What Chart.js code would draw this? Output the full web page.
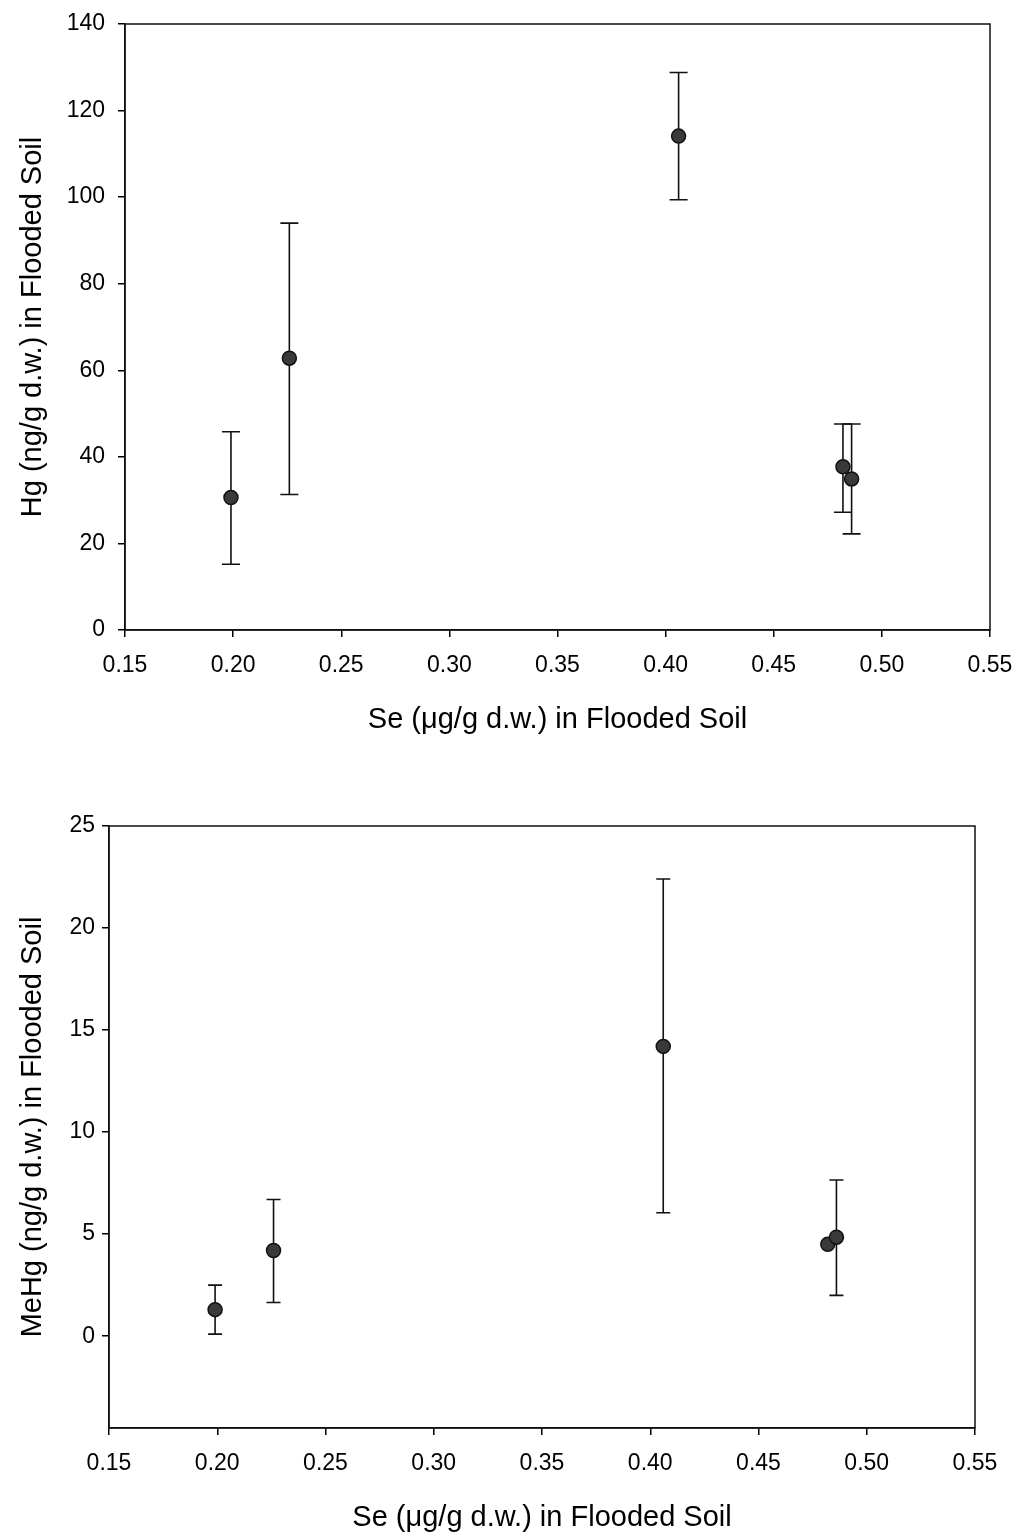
<!DOCTYPE html>
<html><head><meta charset="utf-8">
<script src="https://cdn.jsdelivr.net/npm/chart.js@4/dist/chart.umd.min.js"></script>
<style>html,body{margin:0;padding:0;background:#fff;} canvas{position:absolute;left:0;}</style>
</head><body>
<canvas id="c1" width="1018" height="760" style="top:0px"></canvas>
<canvas id="c2" width="1018" height="777" style="top:760px"></canvas>
<script>
// ---- data ----
const seX = [0.199, 0.226, 0.406, 0.482, 0.486];
const hgMean = [30.6, 62.8, 114.1, 37.7, 34.9];
const hgLow  = [15.2, 31.3, 99.4, 27.2, 22.2];
const hgHigh = [45.8, 94.0, 128.8, 47.6, 47.6];
const mehgMean = [1.3, 4.2, 14.2, 4.5, 4.85];
const mehgLow  = [0.1, 1.65, 6.05, null, 2.0];
const mehgHigh = [2.5, 6.7, 22.4, null, 7.65];
const xTicks = [0.15, 0.20, 0.25, 0.30, 0.35, 0.40, 0.45, 0.50, 0.55];
const hgTicks = [0, 20, 40, 60, 80, 100, 120, 140];
const mehgTicks = [0, 5, 10, 15, 20, 25];
const xTitle = 'Se (\u03BCg/g d.w.) in Flooded Soil';
const hgTitle = 'Hg (ng/g d.w.) in Flooded Soil';
const mehgTitle = 'MeHg (ng/g d.w.) in Flooded Soil';

const FONT = "'Liberation Sans', Arial, sans-serif";

const errorBars = {
  id: 'errorBars',
  beforeDatasetsDraw(chart, args, opts) {
    const {ctx, scales: {x, y}} = chart;
    ctx.save();
    ctx.strokeStyle = '#111';
    ctx.lineWidth = 1.6;
    opts.x.forEach((xv, i) => {
      const lo = opts.low[i], hi = opts.high[i];
      if (lo == null || hi == null) return;
      const px = x.getPixelForValue(xv);
      const pl = y.getPixelForValue(lo), ph = y.getPixelForValue(hi);
      const c = opts.cap;
      ctx.beginPath();
      ctx.moveTo(px, pl); ctx.lineTo(px, ph);
      ctx.moveTo(px - c, pl); ctx.lineTo(px + c, pl);
      ctx.moveTo(px - c, ph); ctx.lineTo(px + c, ph);
      ctx.stroke();
    });
    ctx.restore();
  }
};

const frame = {
  id: 'frame',
  beforeDatasetsDraw(chart) {
    const {ctx, chartArea: a} = chart;
    ctx.save();
    ctx.strokeStyle = '#111';
    ctx.lineWidth = 1.5;
    ctx.strokeRect(a.left, a.top, a.right - a.left, a.bottom - a.top);
    ctx.restore();
  }
};

function makeChart(id, cfg) {
  return new Chart(document.getElementById(id), {
    type: 'scatter',
    data: {
      datasets: [{
        data: seX.map((xv, i) => ({x: xv, y: cfg.mean[i]})),
        pointRadius: 7,
        pointBackgroundColor: '#3a3a3a',
        pointBorderColor: '#111',
        pointBorderWidth: 1.5,
        showLine: false
      }]
    },
    options: {
      responsive: false,
      animation: false,
      events: [],
      layout: {padding: cfg.padding},
      plugins: {
        legend: {display: false},
        tooltip: {enabled: false},
        errorBars: {x: seX, low: cfg.low, high: cfg.high, cap: cfg.cap}
      },
      scales: {
        x: {
          type: 'linear', min: 0.15, max: 0.55,
          afterBuildTicks: s => { s.ticks = xTicks.map(v => ({value: v})); },
          afterFit: s => { s.height = cfg.xH; s.paddingLeft = 0; s.paddingRight = 0; },
          ticks: {font: {family: FONT, size: 23}, color: '#000', padding: 15,
                  maxRotation: 0, autoSkip: false, callback: v => Number(v).toFixed(2)},
          grid: {drawOnChartArea: false, drawTicks: true, tickLength: 7, color: '#000', lineWidth: 1.5},
          border: {display: true, color: '#111', width: 1.5},
          title: {display: true, text: xTitle, color: '#000',
                  font: {family: FONT, size: 29}, padding: {top: 0, bottom: cfg.xTitlePad}}
        },
        y: {
          type: 'linear', min: cfg.yMin, max: cfg.yMax,
          afterBuildTicks: s => { s.ticks = cfg.yTicks.map(v => ({value: v})); },
          afterFit: s => { s.width = cfg.yW; s.paddingTop = 0; s.paddingBottom = 0; },
          ticks: {font: {family: FONT, size: 23}, color: '#000', padding: cfg.yTickPad,
                  autoSkip: false, callback: v => String(v)},
          grid: {drawOnChartArea: false, drawTicks: true, tickLength: 7, color: '#000', lineWidth: 1.5},
          border: {display: true, color: '#111', width: 1.5},
          title: {display: true, text: cfg.yTitle, color: '#000',
                  font: {family: FONT, size: 29}, padding: {top: 16, bottom: 0}}
        }
      }
    },
    plugins: [frame, errorBars]
  });
}

makeChart('c1', {
  mean: hgMean, low: hgLow, high: hgHigh, cap: 9,
  yMin: 0, yMax: 140, yTicks: hgTicks, yTitle: hgTitle,
  padding: {top: 24, left: 0, right: 28, bottom: 0},
  yW: 125, xH: 130, yTickPad: 13, xTitlePad: 23
});
makeChart('c2', {
  mean: mehgMean, low: mehgLow, high: mehgHigh, cap: 7,
  yMin: -4.5, yMax: 25, yTicks: mehgTicks, yTitle: mehgTitle,
  padding: {top: 66, left: 0, right: 43, bottom: 0},
  yW: 109, xH: 109, yTickPad: 7, xTitlePad: 2
});
</script>
</body></html>
